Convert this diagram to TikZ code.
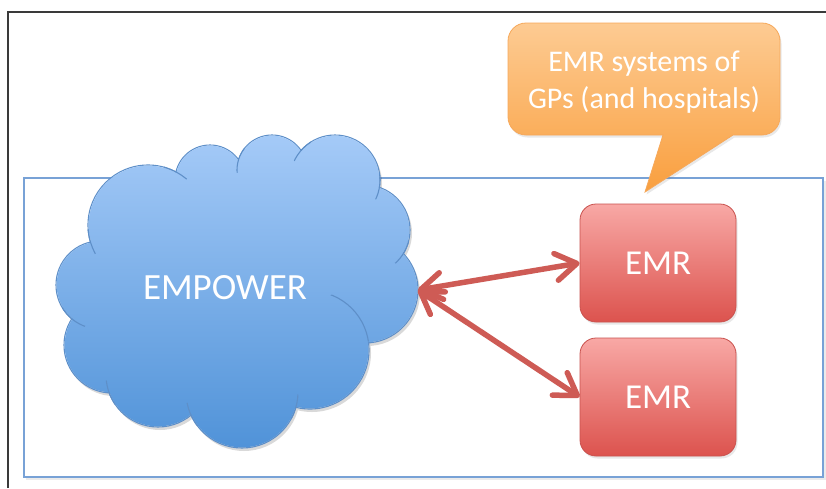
\documentclass[tikz,border=0pt]{standalone}
\usepackage{fontspec}
\setmainfont{Carlito}
\usetikzlibrary{arrows.meta,shadows}
\definecolor{cloudtop}{HTML}{A6CBF8}
\definecolor{cloudbot}{HTML}{4F92D8}
\definecolor{cloudline}{HTML}{5E8FC8}
\definecolor{emrtop}{HTML}{F8A8A5}
\definecolor{emrbot}{HTML}{DC534E}
\definecolor{emrline}{HTML}{C9524E}
\definecolor{caltop}{HTML}{FDCB93}
\definecolor{calbot}{HTML}{F99F3E}
\definecolor{calline}{HTML}{F6A85A}
\definecolor{arrowred}{HTML}{CE5B55}
\definecolor{frameblue}{HTML}{78A2D6}
\definecolor{framedark}{HTML}{3A3A3A}
\newcommand{\mycloudpath}[1]{%
  (148,225) circle[radius=60pt-#1]
  (210,180) circle[radius=35pt-#1]
  (272,170) circle[radius=35pt-#1]
  (335,180) circle[radius=45pt-#1]
  (365,230) circle[radius=45pt-#1]
  (365,290) circle[radius=53pt-#1]
  (310,350) circle[radius=59pt-#1]
  (242,392) circle[radius=56pt-#1]
  (158,375) circle[radius=52pt-#1]
  (112,345) circle[radius=48pt-#1]
  (100,285) circle[radius=44pt-#1]
  (235,290) ellipse[x radius=150pt-#1, y radius=110pt-#1]}
% hook: #1 = clip centre, #2 = clip radius, #3 = lobe centre, #4 = lobe radius
\newcommand{\myhook}[4]{%
  \begin{scope}
    \clip #1 circle[radius=#2];
    \draw[cloudline, line width=1.1pt] #3 circle[radius=#4];
  \end{scope}}
\tikzset{
  emrbox/.style={draw=emrline, line width=0.8pt, top color=emrtop, bottom color=emrbot,
    rounded corners=16pt, minimum width=156pt, minimum height=118pt, inner sep=0pt,
    text=white, font=\fontsize{35}{42}\selectfont,
    drop shadow={opacity=0.18, shadow xshift=1.5pt, shadow yshift=-2.5pt}},
  link/.style={draw=arrowred, line width=5.5pt, line cap=round,
    {Straight Barb[length=21pt,width=27pt,round]}-{Straight Barb[length=21pt,width=27pt,round]}},
  whitetext/.style={text=white, align=center}
}
\begin{document}
\begin{tikzpicture}[x=1pt,y=-1pt]
\useasboundingbox (0,0) rectangle (826,488);
% outer frame
\draw[framedark, line width=1.5pt] (8,488) -- (8,12) -- (826,12);
% blue container
\fill[black, opacity=0.08] (26,181) rectangle (826,480);
\draw[frameblue, line width=1.3pt, fill=white] (24,178) rectangle (823,477);
% cloud shadow
\fill[black, opacity=0.15, xshift=2pt, yshift=-3pt] \mycloudpath{0pt};
% cloud outline and fill
\draw[cloudline, line width=1.1pt] \mycloudpath{0pt};
\begin{scope}
  \clip \mycloudpath{0.6pt};
  \shade[top color=cloudtop, bottom color=cloudbot] (40,130) rectangle (425,452);
\end{scope}
% inner arcs of the cloud
\myhook{(176,172)}{13pt}{(148,225)}{60pt}
\myhook{(238.5,160)}{13pt}{(272,170)}{35pt}
\myhook{(301,150)}{13pt}{(335,180)}{45pt}
\myhook{(379,187)}{13pt}{(335,180)}{45pt}
\myhook{(403,253)}{13pt}{(365,230)}{45pt}
\myhook{(350,318)}{30pt}{(310,350)}{59pt}
\myhook{(296,407)}{13pt}{(242,392)}{56pt}
\myhook{(191,415)}{13pt}{(242,392)}{56pt}
\myhook{(109,393)}{13pt}{(158,375)}{52pt}
\myhook{(72,319)}{15pt}{(100,285)}{44pt}
\myhook{(90,242)}{13pt}{(148,225)}{60pt}
\node[whitetext, font=\fontsize{37}{44}\selectfont] (empower) at (225,288) {EMPOWER};
\coordinate (cloudR) at (418,290);
% EMR boxes
\node[emrbox] (emr1) at (658,263) {EMR};
\node[emrbox] (emr2) at (658,397) {EMR};
% arrows
\draw[link] (cloudR) -- (emr1.west);
\draw[link] (cloudR) -- (emr2.west);
% callout
\shadedraw[top color=caltop, bottom color=calbot, draw=calline, line width=0.8pt,
  drop shadow={opacity=0.18, shadow xshift=1.5pt, shadow yshift=-2.5pt}]
  (526,23) -- (762,23) arc[start angle=90, end angle=0, radius=18pt]
  -- (780,117) arc[start angle=0, end angle=-90, radius=18pt]
  -- (733,135) -- (645,192) -- (663,135)
  -- (526,135) arc[start angle=-90, end angle=-180, radius=18pt]
  -- (508,41) arc[start angle=180, end angle=90, radius=18pt] -- cycle;
\node[whitetext, font=\fontsize{30}{37}\selectfont] (callout) at (644,82) {EMR systems of\\GPs (and hospitals)};
\end{tikzpicture}
\end{document}
